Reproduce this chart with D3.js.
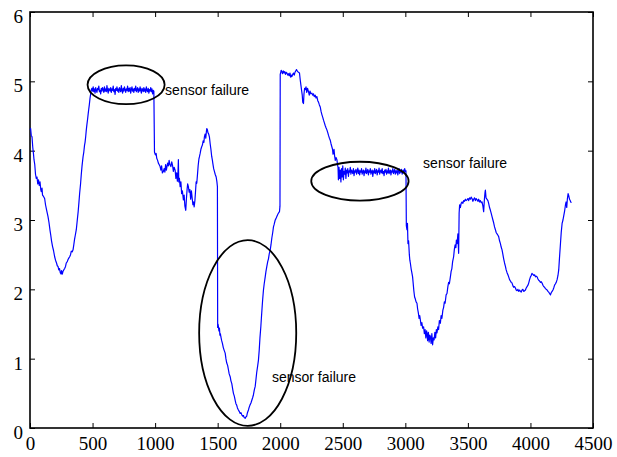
<!DOCTYPE html>
<html>
<head>
<meta charset="utf-8">
<script src="https://cdn.jsdelivr.net/npm/d3@7"></script>
<style>
  html, body { margin: 0; padding: 0; background: #fff; }
  svg { display: block; }
</style>
</head>
<body>
<div id="chart"></div>
<script>
// Sensor output trace, [sample index, value]
const riseSegment = [[0,4.30],[5,4.32],[10,4.22],[16,4.20],[22,4.05],[28,3.95],[32,3.87],[38,3.80],[44,3.66],[50,3.60],[56,3.62],[62,3.52],[68,3.58],[74,3.50],[80,3.55],[86,3.44],[90,3.41],[96,3.46],[100,3.36],[108,3.34],[117,3.31],[124,3.22],[132,3.15],[138,3.10],[144,3.05],[152,2.96],[160,2.85],[166,2.78],[172,2.70],[180,2.62],[188,2.56],[197,2.47],[204,2.42],[212,2.38],[218,2.34],[224,2.33],[230,2.28],[236,2.30],[242,2.24],[248,2.22],[252,2.27],[258,2.22],[264,2.26],[270,2.28],[277,2.30],[284,2.33],[290,2.38],[298,2.40],[304,2.43],[310,2.45],[317,2.47],[324,2.50],[330,2.55],[337,2.54],[344,2.57],[350,2.64],[356,2.72],[362,2.78],[370,2.86],[378,3.00],[385,3.12],[391,3.25],[397,3.39],[404,3.52],[410,3.66],[416,3.78],[424,3.91],[430,3.98],[436,4.08],[440,4.12],[445,4.20],[450,4.30],[455,4.38],[460,4.45],[465,4.53],[469,4.59],[474,4.66],[480,4.76],[485,4.82],[490,4.88]];

// First stuck reading, sampled every 5 points from 495
const stuckStartA = 495;
const stuckValuesA = [
  4.90,4.86,4.92,4.85,4.89,4.83,4.91,4.87,4.84,4.90,
  4.88,4.93,4.85,4.87,4.82,4.90,4.86,4.91,4.88,4.84,
  4.92,4.86,4.89,4.85,4.94,4.87,4.83,4.90,4.88,4.86,
  4.91,4.84,4.89,4.87,4.93,4.85,4.88,4.81,4.90,4.87,
  4.92,4.86,4.89,4.84,4.91,4.88,4.85,4.94,4.87,4.83,
  4.90,4.86,4.92,4.88,4.84,4.89,4.87,4.93,4.85,4.90,
  4.86,4.91,4.83,4.88,4.92,4.86,4.89,4.84,4.90,4.87,
  4.93,4.85,4.88,4.91,4.84,4.89,4.86,4.92,4.87,4.83,
  4.90,4.88,4.85,4.91,4.86,4.89,4.84,4.92,4.87,4.85,
  4.90,4.83,4.88,4.86,4.91,4.85,4.89,4.82,4.87,4.86];

const middleSegment = [[995,3.98],[1002,3.94],[1008,3.96],[1013,3.89],[1020,3.86],[1026,3.82],[1032,3.80],[1040,3.77],[1046,3.72],[1052,3.78],[1058,3.68],[1066,3.70],[1072,3.74],[1078,3.69],[1084,3.80],[1090,3.72],[1093,3.75],[1100,3.82],[1106,3.78],[1112,3.86],[1118,3.80],[1126,3.77],[1133,3.84],[1140,3.78],[1146,3.70],[1152,3.76],[1160,3.72],[1166,3.60],[1172,3.68],[1178,3.56],[1183,3.70],[1186,3.87],[1189,3.55],[1194,3.60],[1200,3.48],[1206,3.55],[1212,3.38],[1218,3.42],[1226,3.29],[1232,3.36],[1238,3.20],[1245,3.14],[1250,3.30],[1256,3.45],[1260,3.52],[1266,3.48],[1272,3.40],[1278,3.44],[1284,3.30],[1290,3.42],[1296,3.32],[1302,3.22],[1308,3.26],[1312,3.19],[1318,3.28],[1324,3.44],[1328,3.55],[1333,3.53],[1338,3.64],[1344,3.78],[1350,3.88],[1354,3.91],[1360,3.96],[1366,4.02],[1373,4.06],[1378,4.08],[1384,4.14],[1390,4.12],[1394,4.20],[1400,4.24],[1405,4.18],[1410,4.28],[1413,4.32],[1418,4.30],[1422,4.26],[1428,4.24],[1434,4.20],[1440,4.10],[1446,4.02],[1452,3.92],[1458,3.86],[1461,3.82],[1468,3.74],[1474,3.70],[1480,3.66],[1488,3.62],[1494,3.55],[1498,3.48]];

const dropSegment = [[1500,1.45],[1503,1.50],[1506,1.46],[1510,1.40],[1514,1.44],[1518,1.34],[1522,1.36],[1525,1.32],[1532,1.26],[1538,1.22],[1545,1.16],[1552,1.12],[1560,1.08],[1566,1.00],[1572,0.94],[1580,0.90],[1586,0.84],[1592,0.78],[1600,0.74],[1606,0.68],[1613,0.64],[1620,0.56],[1626,0.50],[1633,0.46],[1640,0.40],[1646,0.35],[1652,0.33],[1658,0.29],[1666,0.26],[1672,0.24],[1680,0.21],[1686,0.22],[1693,0.19],[1700,0.17],[1706,0.18],[1712,0.15],[1720,0.14],[1726,0.16],[1732,0.17],[1738,0.22],[1746,0.26],[1752,0.30],[1758,0.33],[1766,0.36],[1773,0.40],[1780,0.44],[1786,0.48],[1793,0.55],[1800,0.60],[1806,0.70],[1812,0.80],[1820,0.90],[1826,0.98],[1832,1.12],[1838,1.30],[1845,1.46],[1850,1.60],[1856,1.76],[1860,1.86],[1866,1.99],[1872,2.08],[1880,2.18],[1886,2.26],[1893,2.33],[1900,2.40],[1906,2.44],[1913,2.52],[1920,2.57],[1926,2.64],[1933,2.74],[1940,2.82],[1946,2.90],[1952,2.94],[1960,3.00],[1966,3.02],[1973,3.05],[1980,3.08],[1986,3.10],[1994,3.12],[1998,3.20]];

const highSegment = [[2000,5.10],[2004,5.13],[2008,5.16],[2013,5.14],[2018,5.11],[2024,5.15],[2030,5.12],[2036,5.14],[2042,5.10],[2048,5.13],[2053,5.12],[2060,5.09],[2066,5.11],[2072,5.08],[2078,5.12],[2084,5.06],[2090,5.09],[2093,5.07],[2100,5.10],[2106,5.12],[2112,5.09],[2118,5.13],[2124,5.15],[2130,5.17],[2133,5.16],[2140,5.14],[2146,5.13],[2154,5.12],[2160,5.02],[2165,4.95],[2170,4.88],[2176,4.80],[2180,4.70],[2186,4.68],[2190,4.82],[2195,4.90],[2200,4.88],[2206,4.92],[2212,4.84],[2218,4.90],[2226,4.85],[2232,4.80],[2238,4.86],[2245,4.82],[2253,4.83],[2260,4.80],[2266,4.82],[2272,4.78],[2280,4.80],[2286,4.76],[2293,4.78],[2300,4.72],[2306,4.70],[2313,4.66],[2320,4.63],[2326,4.57],[2333,4.52],[2340,4.48],[2346,4.44],[2353,4.40],[2360,4.36],[2366,4.33],[2373,4.30],[2380,4.26],[2386,4.22],[2393,4.18],[2400,4.15],[2406,4.10],[2412,4.06],[2418,4.02],[2422,3.95],[2426,3.96],[2430,4.02],[2435,3.92],[2440,3.86],[2446,3.90],[2453,3.87],[2458,3.80],[2462,3.76]];

// Second stuck reading, sampled every 5 points from 2465
const stuckStartB = 2465;
const stuckValuesB = [
  3.58,3.76,3.60,3.72,3.55,3.74,3.62,3.78,3.58,3.70,
  3.66,3.75,3.60,3.72,3.68,3.74,3.63,3.71,3.69,3.76,
  3.66,3.72,3.70,3.67,3.74,3.64,3.71,3.69,3.73,3.66,
  3.70,3.75,3.67,3.72,3.65,3.71,3.69,3.74,3.66,3.70,
  3.72,3.64,3.71,3.68,3.75,3.67,3.70,3.73,3.65,3.71,
  3.69,3.74,3.66,3.70,3.72,3.63,3.71,3.68,3.74,3.67,
  3.70,3.73,3.65,3.71,3.69,3.75,3.66,3.70,3.72,3.68,
  3.74,3.67,3.70,3.64,3.72,3.69,3.73,3.66,3.71,3.68,
  3.75,3.67,3.70,3.72,3.65,3.71,3.69,3.74,3.67,3.70,
  3.73,3.66,3.71,3.68,3.72,3.65,3.70,3.74,3.67,3.71,
  3.69,3.73,3.66,3.70,3.72,3.68,3.74,3.70,3.71];

const tailSegment = [[3008,2.92],[3013,2.86],[3017,2.95],[3021,2.66],[3026,2.70],[3032,2.50],[3036,2.42],[3040,2.38],[3046,2.30],[3052,2.24],[3058,2.18],[3062,2.10],[3068,1.98],[3074,1.89],[3080,1.86],[3086,1.82],[3093,1.80],[3098,1.72],[3104,1.66],[3110,1.58],[3115,1.62],[3120,1.56],[3126,1.48],[3132,1.52],[3138,1.44],[3146,1.46],[3152,1.36],[3158,1.42],[3164,1.30],[3170,1.40],[3173,1.37],[3178,1.26],[3184,1.38],[3190,1.24],[3196,1.34],[3200,1.32],[3206,1.22],[3212,1.36],[3218,1.20],[3224,1.30],[3230,1.27],[3236,1.38],[3242,1.30],[3248,1.42],[3253,1.37],[3260,1.46],[3266,1.42],[3272,1.55],[3280,1.51],[3286,1.62],[3292,1.58],[3300,1.70],[3306,1.74],[3312,1.82],[3318,1.80],[3326,1.92],[3333,1.94],[3340,2.04],[3346,2.10],[3352,2.08],[3360,2.18],[3366,2.26],[3372,2.30],[3378,2.40],[3386,2.47],[3392,2.58],[3398,2.64],[3404,2.60],[3408,2.71],[3414,2.66],[3420,2.80],[3426,2.52],[3430,3.10],[3434,3.22],[3440,3.18],[3446,3.24],[3453,3.26],[3460,3.24],[3466,3.28],[3473,3.27],[3480,3.30],[3486,3.28],[3493,3.29],[3500,3.31],[3506,3.28],[3513,3.32],[3520,3.30],[3526,3.33],[3533,3.31],[3540,3.27],[3546,3.30],[3553,3.32],[3560,3.28],[3566,3.31],[3573,3.29],[3580,3.27],[3586,3.30],[3593,3.26],[3600,3.28],[3606,3.25],[3613,3.26],[3620,3.20],[3626,3.12],[3632,3.30],[3637,3.40],[3640,3.43],[3645,3.32],[3652,3.30],[3660,3.28],[3666,3.24],[3673,3.18],[3680,3.14],[3686,3.10],[3693,3.05],[3700,3.00],[3706,2.96],[3713,2.90],[3720,2.86],[3726,2.82],[3733,2.80],[3740,2.78],[3746,2.76],[3753,2.70],[3760,2.66],[3766,2.61],[3773,2.57],[3780,2.50],[3786,2.44],[3793,2.38],[3800,2.33],[3806,2.28],[3813,2.24],[3820,2.21],[3826,2.18],[3833,2.14],[3840,2.12],[3846,2.10],[3853,2.09],[3860,2.05],[3866,2.03],[3873,2.04],[3880,2.02],[3886,1.99],[3893,1.98],[3900,2.00],[3906,1.97],[3913,1.99],[3920,1.97],[3926,1.96],[3933,1.99],[3940,2.00],[3946,1.97],[3953,1.98],[3960,1.99],[3966,2.02],[3973,2.04],[3980,2.06],[3986,2.09],[3993,2.14],[4000,2.18],[4006,2.20],[4012,2.23],[4018,2.22],[4026,2.20],[4033,2.21],[4040,2.18],[4046,2.19],[4053,2.18],[4060,2.15],[4066,2.13],[4073,2.12],[4080,2.10],[4086,2.11],[4093,2.09],[4100,2.06],[4106,2.04],[4113,2.03],[4120,2.01],[4126,2.00],[4133,1.99],[4140,1.97],[4146,1.96],[4153,1.94],[4160,1.92],[4166,1.95],[4173,1.97],[4180,1.99],[4186,2.02],[4193,2.06],[4200,2.08],[4206,2.10],[4213,2.14],[4220,2.20],[4226,2.28],[4232,2.45],[4240,2.66],[4246,2.82],[4253,2.95],[4260,3.00],[4266,3.06],[4274,3.14],[4280,3.22],[4285,3.26],[4290,3.18],[4295,3.30],[4301,3.38],[4306,3.35],[4312,3.30],[4318,3.28],[4322,3.26],[4328,3.25]];

// Annotations: ellipse centre and radii in data units, label anchor in data units
const failureEllipses = [
  { cx: 768,  cy: 4.95, rx: 308, ry: 0.28 },
  { cx: 1740, cy: 1.37, rx: 388, ry: 1.34 },
  { cx: 2637, cy: 3.56, rx: 389, ry: 0.28 }
];
const failureLabels = [
  { x: 1080, y: 4.81, text: "sensor failure" },
  { x: 3142, y: 3.75, text: "sensor failure" },
  { x: 1934, y: 0.67, text: "sensor failure" }
];

const xTicks = [0, 500, 1000, 1500, 2000, 2500, 3000, 3500, 4000, 4500];
const yTicks = [0, 1, 2, 3, 4, 5, 6];

// Assemble the full trace
const trace = [].concat(
  riseSegment,
  stuckValuesA.map((v, i) => [stuckStartA + 5 * i, v]),
  middleSegment,
  dropSegment,
  highSegment,
  stuckValuesB.map((v, i) => [stuckStartB + 5 * i, v]),
  tailSegment
);

const W = 617, H = 457;
const plot = { left: 30, right: 593, top: 12, bottom: 428 };
const tickFont = "Liberation Serif, Times New Roman, Times, serif";

const svg = d3.select("#chart").append("svg")
  .attr("width", W).attr("height", H)
  .style("background", "#fff");

const x = d3.scaleLinear().domain([0, 4500]).range([plot.left, plot.right]);
const y = d3.scaleLinear().domain([0, 6]).range([plot.bottom, plot.top]);

// Bottom axis with inward ticks
const gx = svg.append("g")
  .attr("transform", `translate(0,${plot.bottom})`)
  .call(d3.axisBottom(x).tickValues(xTicks).tickSizeInner(-5).tickSizeOuter(0).tickPadding(9).tickFormat(d3.format("d")));
// Left axis with inward ticks
const gy = svg.append("g")
  .attr("transform", `translate(${plot.left},0)`)
  .call(d3.axisLeft(y).tickValues(yTicks).tickSizeInner(-5).tickSizeOuter(0).tickPadding(7).tickFormat(d3.format("d")));
// Top and right axes: ticks only
const gt = svg.append("g")
  .attr("transform", `translate(0,${plot.top})`)
  .call(d3.axisTop(x).tickValues(xTicks).tickSizeInner(-5).tickSizeOuter(0).tickFormat(""));
const gr = svg.append("g")
  .attr("transform", `translate(${plot.right},0)`)
  .call(d3.axisRight(y).tickValues(yTicks).tickSizeInner(-5).tickSizeOuter(0).tickFormat(""));

[gx, gy, gt, gr].forEach(g => {
  g.attr("font-family", tickFont).attr("font-size", 19);
  g.select(".domain").remove();
  g.selectAll(".tick line").attr("stroke", "#000").attr("stroke-width", 1);
  g.selectAll(".tick text").attr("fill", "#000");
});
gy.selectAll(".tick text").attr("dy", "0.55em");

// Frame
svg.append("rect")
  .attr("x", plot.left).attr("y", plot.top)
  .attr("width", plot.right - plot.left).attr("height", plot.bottom - plot.top)
  .attr("fill", "none").attr("stroke", "#000").attr("stroke-width", 1.6);

// Trace
const line = d3.line().x(d => x(d[0])).y(d => y(d[1]));
svg.append("path")
  .datum(trace)
  .attr("d", line)
  .attr("fill", "none")
  .attr("stroke", "#0000ff")
  .attr("stroke-width", 1.2)
  .attr("stroke-linejoin", "round");

// Failure ellipses
svg.selectAll("ellipse.failure")
  .data(failureEllipses)
  .join("ellipse")
  .attr("class", "failure")
  .attr("cx", d => x(d.cx))
  .attr("cy", d => y(d.cy))
  .attr("rx", d => x(d.rx) - x(0))
  .attr("ry", d => y(0) - y(d.ry))
  .attr("fill", "none")
  .attr("stroke", "#000")
  .attr("stroke-width", 1.8);

// Failure labels
svg.selectAll("text.failure-label")
  .data(failureLabels)
  .join("text")
  .attr("class", "failure-label")
  .attr("x", d => x(d.x))
  .attr("y", d => y(d.y))
  .attr("fill", "#000")
  .attr("font-family", "Liberation Sans, Arial, sans-serif")
  .attr("font-size", 14)
  .text(d => d.text);
</script>
</body>
</html>
